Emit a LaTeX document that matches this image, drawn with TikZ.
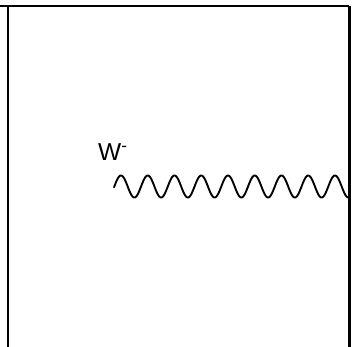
\documentclass[tikz,border=0pt]{standalone}
\usepackage{fontspec}
\setmainfont{Liberation Sans}
\begin{document}
\begin{tikzpicture}[x=1pt,y=-1pt,
  frame/.style={line width=2.2pt},
  wave/.style={line width=1.9pt, line join=round, line cap=round}]
\useasboundingbox (0,0) rectangle (360,347);
\fill[white] (0,0) rectangle (360,347);
\coordinate (tl) at (0,6.3);
\coordinate (lt) at (8.4,6.3);
\coordinate (lb) at (8.4,347);
\coordinate (rt) at (349.5,6.3);
\coordinate (rb) at (349.5,347);
\draw[frame] (tl) -- (rt);
\draw[frame] (lt) -- (lb);
\draw[frame] (rt) -- (rb);
\node[anchor=base west, inner sep=0pt, font=\fontsize{24.5}{27}\selectfont] (wlab) at (98,160.5) {W\textsuperscript{-}};
\draw[wave] plot[domain=114:348.5, samples=600] (\x, {186.5 - 11*sin(13.458*(\x-114.3))});
\end{tikzpicture}
\end{document}
